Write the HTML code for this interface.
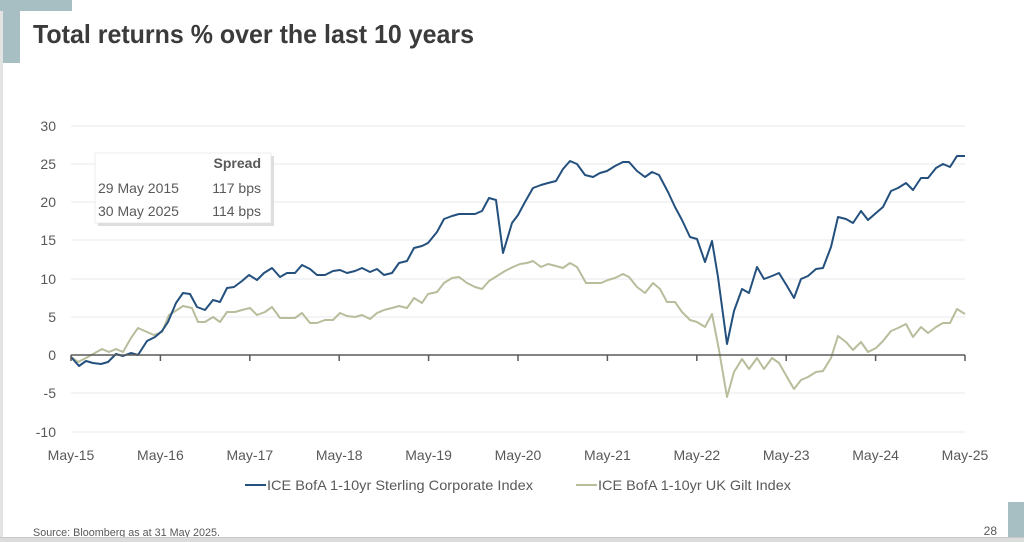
<!DOCTYPE html>
<html><head><meta charset="utf-8"><style>
html,body{margin:0;padding:0;background:#fff;}
svg{display:block;font-family:"Liberation Sans",Arial,sans-serif;}
</style></head><body>
<svg width="1024" height="542" viewBox="0 0 1024 542" xmlns="http://www.w3.org/2000/svg">
<rect width="1024" height="542" fill="#fff"/>
<!-- left border -->
<rect x="0" y="0" width="3" height="537" fill="#e3e3e3"/>
<!-- top-left deco -->
<rect x="0" y="0" width="72" height="11" fill="#a7bec2"/>
<rect x="3" y="0" width="17" height="63" fill="#a7bec2"/>
<!-- title -->
<text x="33" y="43" font-size="26" font-weight="bold" fill="#3b3b3b" textLength="441" lengthAdjust="spacingAndGlyphs">Total returns % over the last 10 years</text>
<!-- gridlines -->
<g stroke="#e9edef" stroke-width="1.2">
<line x1="71" y1="126" x2="965" y2="126"/>
<line x1="71" y1="164" x2="965" y2="164"/>
<line x1="71" y1="202" x2="965" y2="202"/>
<line x1="71" y1="240" x2="965" y2="240"/>
<line x1="71" y1="279" x2="965" y2="279"/>
<line x1="71" y1="317" x2="965" y2="317"/>
<line x1="71" y1="393" x2="965" y2="393"/>
<line x1="71" y1="432" x2="965" y2="432"/>
</g>
<!-- y labels -->
<g font-size="14" fill="#595959" text-anchor="end">
<text x="56" y="131">30</text>
<text x="56" y="169">25</text>
<text x="56" y="207">20</text>
<text x="56" y="245">15</text>
<text x="56" y="284">10</text>
<text x="56" y="322">5</text>
<text x="56" y="360">0</text>
<text x="56" y="398">-5</text>
<text x="56" y="437">-10</text>
</g>
<!-- spread box -->
<rect x="98" y="156" width="176" height="70" fill="#d6d6d6" opacity="0.8"/>
<rect x="95" y="153" width="176" height="70" fill="#fff" stroke="#e2e2e2" stroke-width="0.6"/>
<g font-size="14" fill="#595959">
<text x="261" y="168" text-anchor="end" font-weight="bold">Spread</text>
<text x="98" y="193">29 May 2015</text>
<text x="261" y="193" text-anchor="end">117 bps</text>
<text x="98" y="216">30 May 2025</text>
<text x="261" y="216" text-anchor="end">114 bps</text>
</g>
<!-- series -->
<polyline fill="none" stroke="#b8bd9c" stroke-width="2" stroke-linejoin="round" points="71,357 78,362 86,358 93,354 102,349 109,352 116,349 123,352 131,338 138,328 147,332 154,335 162,332 169,315 177,310 183,306 192,308 198,322 205,322 213,317 220,322 227,312 235,312 242,310 250,308 257,315 265,312 272,307 280,318 287,318 295,318 302,313 310,323 317,323 325,320 333,320 340,313 347,316 355,317 362,315 370,319 377,313 384,310 392,308 399,306 407,308 414,298 422,303 428,294 437,292 444,283 452,278 459,277 467,283 475,287 482,289 489,281 497,276 505,271 513,267 520,264 527,263 533,261 541,267 548,264 556,266 563,268 570,263 577,267 586,283 593,283 601,283 608,280 615,278 623,274 629,277 637,287 645,293 653,283 660,289 667,302 675,302 682,312 690,320 697,322 705,327 712,314 719,350 727,397 734,372 742,359 749,369 757,358 764,369 772,358 779,363 787,377 794,389 801,380 808,377 816,372 823,371 831,358 838,336 846,342 853,350 861,342 868,352 876,348 883,341 891,331 898,328 906,324 913,337 921,327 928,333 936,327 943,323 950,323 957,309 965,314"/>
<polyline fill="none" stroke="#24507e" stroke-width="2" stroke-linejoin="round" points="71,357 79,366 86,361 93,363 101,364 108,362 116,354 123,356 131,353 138,355 147,341 155,337 162,331 168,322 176,303 183,293 190,294 197,307 205,310 213,300 220,302 227,288 234,287 242,281 249,275 257,280 264,273 272,268 280,277 287,273 295,273 302,265 310,269 317,275 325,275 333,271 340,270 347,273 355,271 362,268 370,272 377,269 384,275 392,273 399,263 407,261 414,248 422,246 428,243 437,232 444,219 452,216 459,214 467,214 475,214 482,211 489,198 496,200 503,253 512,223 518,215 525,202 533,188 541,185 548,183 556,181 563,169 570,161 577,164 585,175 593,177 600,173 607,171 615,166 623,162 629,162 637,171 645,177 652,172 659,175 668,192 675,207 682,220 690,237 697,239 705,262 712,241 718,277 727,344 734,311 742,289 749,293 757,267 764,279 772,276 779,273 787,286 794,298 801,279 808,276 816,269 823,268 831,247 838,217 846,219 853,223 861,211 868,220 876,213 883,207 891,191 898,188 906,183 913,190 921,178 928,178 936,168 943,164 950,167 957,156 965,156"/>
<!-- zero axis -->
<g stroke="#5a5a5a" stroke-width="1.5">
<line x1="71" y1="355" x2="965" y2="355"/>
<line x1="71" y1="355" x2="71" y2="361"/>
<line x1="160.4" y1="355" x2="160.4" y2="361"/>
<line x1="249.8" y1="355" x2="249.8" y2="361"/>
<line x1="339.2" y1="355" x2="339.2" y2="361"/>
<line x1="428.6" y1="355" x2="428.6" y2="361"/>
<line x1="518" y1="355" x2="518" y2="361"/>
<line x1="607.4" y1="355" x2="607.4" y2="361"/>
<line x1="696.8" y1="355" x2="696.8" y2="361"/>
<line x1="786.2" y1="355" x2="786.2" y2="361"/>
<line x1="875.6" y1="355" x2="875.6" y2="361"/>
<line x1="965" y1="355" x2="965" y2="361"/>
</g>
<!-- x labels -->
<g font-size="14" fill="#595959" text-anchor="middle">
<text x="71" y="460">May-15</text>
<text x="160.4" y="460">May-16</text>
<text x="249.8" y="460">May-17</text>
<text x="339.2" y="460">May-18</text>
<text x="428.6" y="460">May-19</text>
<text x="518" y="460">May-20</text>
<text x="607.4" y="460">May-21</text>
<text x="696.8" y="460">May-22</text>
<text x="786.2" y="460">May-23</text>
<text x="875.6" y="460">May-24</text>
<text x="965" y="460">May-25</text>
</g>
<!-- legend -->
<line x1="245" y1="485" x2="266" y2="485" stroke="#24507e" stroke-width="2"/>
<text x="267" y="490" font-size="14" fill="#595959" textLength="266" lengthAdjust="spacingAndGlyphs">ICE BofA 1-10yr Sterling Corporate Index</text>
<line x1="576" y1="485" x2="597" y2="485" stroke="#b8bd9c" stroke-width="2"/>
<text x="598" y="490" font-size="14" fill="#595959" textLength="193" lengthAdjust="spacingAndGlyphs">ICE BofA 1-10yr UK Gilt Index</text>
<!-- footer -->
<text x="33" y="536" font-size="11" fill="#595959" textLength="187" lengthAdjust="spacingAndGlyphs">Source: Bloomberg as at 31 May 2025.</text>
<text x="997" y="535" font-size="12" fill="#595959" text-anchor="end">28</text>
<rect x="1008" y="502" width="16" height="35" fill="#a7bec2"/>
<rect x="0" y="537" width="1024" height="5" fill="#dcdcdc"/>
<line x1="0" y1="537.5" x2="1024" y2="537.5" stroke="#c8c8c8" stroke-width="1"/>
</svg>
</body></html>
